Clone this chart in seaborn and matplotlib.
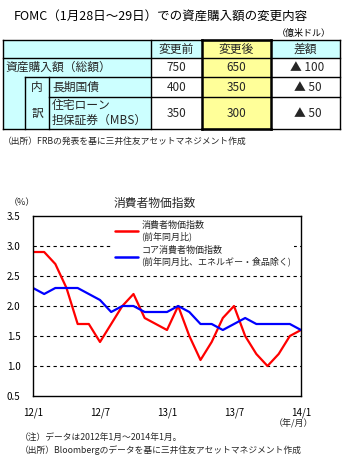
import matplotlib
matplotlib.use("Agg")
import matplotlib.pyplot as plt
from matplotlib.patches import Rectangle
import seaborn as sns
import pandas as pd

# ---------------- data ----------------
table_title = "FOMC（1月28日～29日）での資産購入額の変更内容"
table_unit = "（億米ドル）"
col_headers = ["変更前", "変更後", "差額"]
row_labels = ["資産購入額（総額）", "長期国債", "住宅ローン\n担保証券（MBS）"]
before_vals = ["750", "400", "350"]
after_vals = ["650", "350", "300"]
diff_vals = ["▲ 100", "▲ 50", "▲ 50"]
table_source = "（出所）FRBの発表を基に三井住友アセットマネジメント作成"

chart_title = "消費者物価指数"
month_idx = list(range(25))
tick_pos = [0, 6, 12, 18, 24]
tick_labels = ["12/1", "12/7", "13/1", "13/7", "14/1"]
cpi = [2.9, 2.9, 2.7, 2.3, 1.7, 1.7, 1.4, 1.7, 2.0, 2.2, 1.8, 1.7,
       1.6, 2.0, 1.5, 1.1, 1.4, 1.8, 2.0, 1.5, 1.2, 1.0, 1.2, 1.5, 1.6]
core = [2.3, 2.2, 2.3, 2.3, 2.3, 2.2, 2.1, 1.9, 2.0, 2.0, 1.9, 1.9,
        1.9, 2.0, 1.9, 1.7, 1.7, 1.6, 1.7, 1.8, 1.7, 1.7, 1.7, 1.7, 1.6]
cpi_label = "消費者物価指数\n(前年同月比)"
core_label = "コア消費者物価指数\n(前年同月比、エネルギー・食品除く)"
note1 = "（注）データは2012年1月～2014年1月。"
note2 = "（出所）Bloombergのデータを基に三井住友アセットマネジメント作成"

# ---------------- style ----------------
sns.set_theme(style="white")
FONT = ["Noto Sans CJK JP", "DejaVu Sans"]
plt.rcParams["font.family"] = FONT

W, H = 345, 474
fig = plt.figure(figsize=(W / 100, H / 100), dpi=100)
fig.patch.set_facecolor("white")

# overlay axes in pixel coordinates
ov = fig.add_axes([0, 0, 1, 1])
ov.set_xlim(0, W)
ov.set_ylim(H, 0)
ov.axis("off")
ov.patch.set_visible(False)

CYAN = "#CCFFFF"
YELLOW = "#FFFF99"

ov.text(14, 16, table_title, fontsize=9, va="center", ha="left", color="black")
ov.text(331, 33, table_unit, fontsize=6.5, va="center", ha="right", color="black")

def cell(x0, x1, y0, y1, color):
    ov.add_patch(Rectangle((x0, y0), x1 - x0, y1 - y0, facecolor=color,
                           edgecolor="none", zorder=1))

# backgrounds
cell(3, 151, 40, 129, CYAN)
cell(151, 202, 40, 58, CYAN)
cell(271, 340, 40, 58, CYAN)
cell(151, 202, 58, 129, "white")
cell(271, 340, 58, 129, "white")
cell(202, 271, 40, 129, YELLOW)

lw = 1.0
def hline(y, x0, x1, w=lw):
    ov.plot([x0, x1], [y, y], color="black", lw=w, zorder=3, solid_capstyle="projecting")
def vline(x, y0, y1, w=lw):
    ov.plot([x, x], [y0, y1], color="black", lw=w, zorder=3, solid_capstyle="projecting")

hline(40, 3, 340)
hline(58, 3, 340)
hline(77, 25, 340)
hline(97, 49, 340)
hline(129, 3, 340)
vline(3, 40, 129)
vline(340, 40, 129)
vline(25, 77, 129)
vline(49, 77, 129)
vline(151, 40, 129)
# thick frame around the "after" column
vline(202, 40, 129, 1.8)
vline(271, 40, 129, 1.8)
hline(40, 202, 271, 1.8)
hline(129, 202, 271, 1.8)

tfs = 8.5
ov.text((151 + 202) / 2, 49, col_headers[0], fontsize=tfs, ha="center", va="center", zorder=4)
ov.text((202 + 271) / 2, 49, col_headers[1], fontsize=tfs, ha="center", va="center", zorder=4)
ov.text((271 + 340) / 2, 49, col_headers[2], fontsize=tfs, ha="center", va="center", zorder=4)

row_mid = [(58 + 77) / 2, (77 + 97) / 2, (97 + 129) / 2]
ov.text(5, row_mid[0], row_labels[0], fontsize=tfs, ha="left", va="center", zorder=4)
ov.text(52, row_mid[1], row_labels[1], fontsize=tfs, ha="left", va="center", zorder=4)
ov.text(52, row_mid[2], row_labels[2], fontsize=tfs, ha="left", va="center",
        linespacing=1.15, zorder=4)
ov.text(37, row_mid[1], "内", fontsize=tfs, ha="center", va="center", zorder=4)
ov.text(37, 113, "訳", fontsize=tfs, ha="center", va="center", zorder=4)
for i in range(3):
    ov.text((151 + 202) / 2, row_mid[i], before_vals[i], fontsize=tfs, ha="center", va="center", zorder=4)
    ov.text((202 + 271) / 2, row_mid[i], after_vals[i], fontsize=tfs, ha="center", va="center", zorder=4)
    ov.text((271 + 340) / 2 + 2, row_mid[i], diff_vals[i], fontsize=tfs, ha="center", va="center", zorder=4)

ov.text(3, 141, table_source, fontsize=6.3, ha="left", va="center")

# ---------------- line chart ----------------
ax_l, ax_r, ax_t, ax_b = 33, 301, 216, 396
ax = fig.add_axes([ax_l / W, 1 - ax_b / H, (ax_r - ax_l) / W, (ax_b - ax_t) / H])

df_cpi = pd.DataFrame({"month": month_idx, "value": cpi})
df_core = pd.DataFrame({"month": month_idx, "value": core})
sns.lineplot(data=df_cpi, x="month", y="value", ax=ax, color="#FF0000",
             lw=1.6, label=cpi_label)
sns.lineplot(data=df_core, x="month", y="value", ax=ax, color="#0000FF",
             lw=1.6, label=core_label)

ax.set_xlim(0, 24)
ax.set_ylim(0.5, 3.5)
ax.set_xlabel("")
ax.set_ylabel("")
ax.set_xticks(tick_pos)
ax.set_xticklabels(tick_labels)
ax.set_yticks([0.5, 1.0, 1.5, 2.0, 2.5, 3.0, 3.5])
ax.set_yticklabels(["0.5", "1.0", "1.5", "2.0", "2.5", "3.0", "3.5"])
ax.tick_params(axis="x", direction="in", length=3, width=0.8, pad=8, labelsize=7, colors="black")
ax.tick_params(axis="y", length=0, pad=9, labelsize=7, colors="black")
for lab in ax.get_xticklabels() + ax.get_yticklabels():
    lab.set_family(FONT)
for g in [1.0, 1.5, 2.0, 2.5, 3.0]:
    ax.axhline(g, color="black", lw=0.8, ls=(0, (3, 3)), zorder=0.5)
for s in ax.spines.values():
    s.set_visible(True)
    s.set_color("black")
    s.set_linewidth(1.0)
    s.set_zorder(3)

leg = ax.legend(loc="upper left", bbox_to_anchor=(0.289, 1.0), frameon=True,
                fontsize=6.5, handlelength=2.6, handletextpad=0.3,
                labelspacing=0.55, borderpad=0.3, borderaxespad=0.2)
leg.set_zorder(2.2)
leg.get_frame().set_facecolor("white")
leg.get_frame().set_edgecolor("none")
leg.get_frame().set_alpha(1.0)
leg.get_frame().set_boxstyle("square", pad=0)
for line in leg.get_lines():
    line.set_linewidth(1.8)

ov.text(155, 203, chart_title, fontsize=8.5, ha="center", va="center")
ov.text(9, 203, "（%）", fontsize=6.5, ha="left", va="center")
ov.text(313, 424, "（年/月）", fontsize=6.5, ha="right", va="center")
ov.text(20, 438, note1, fontsize=6.3, ha="left", va="center")
ov.text(20, 450, note2, fontsize=6.3, ha="left", va="center")

fig.savefig("out.png", dpi=100, facecolor="white")
